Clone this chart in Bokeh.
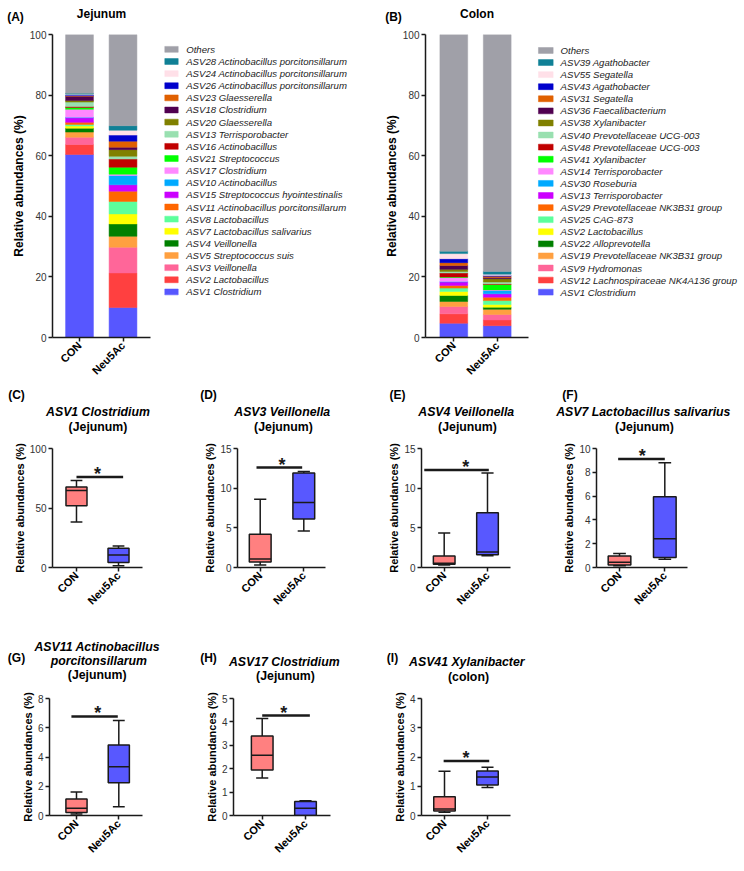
import numpy as np
from bokeh.plotting import figure
from bokeh.models import Range1d, FixedTicker, ColumnDataSource, Spacer
from bokeh.layouts import column, row
from bokeh.embed import file_html
from bokeh.resources import INLINE
from bokeh.core.properties import value

FONT = "Liberation Sans"

groups = ["CON", "Neu5Ac"]

# ---------------- Panel A (Jejunum), bottom -> top ----------------
jej_taxa = ["ASV1 Clostridium", "ASV2 Lactobacillus", "ASV3 Veillonella",
            "ASV5 Streptococcus suis", "ASV4 Veillonella",
            "ASV7 Lactobacillus salivarius", "ASV8 Lactobacillus",
            "ASV11 Actinobacillus porcitonsillarum",
            "ASV15 Streptococcus hyointestinalis", "ASV10 Actinobacillus",
            "ASV17 Clostridium", "ASV21 Streptococcus", "ASV16 Actinobacillus",
            "ASV13 Terrisporobacter", "ASV20 Glaesserella", "ASV18 Clostridium",
            "ASV23 Glaesserella", "ASV26 Actinobacillus porcitonsillarum",
            "ASV24 Actinobacillus porcitonsillarum",
            "ASV28 Actinobacillus porcitonsillarum", "Others"]
jej_con = [60.4, 3.3, 2.4, 1.7, 1.3, 0.7, 0.5, 0.7, 1.5, 0.2, 2.6, 0.6, 0.3,
           1.5, 0.5, 1.4, 0.2, 0.2, 0.3, 0.3, 19.4]
jej_neu = [9.9, 11.4, 8.5, 3.6, 4.1, 3.3, 4.1, 3.4, 2.1, 3.1, 0.4, 2.3, 2.7,
           0.9, 2.2, 0.8, 2.0, 2.0, 1.6, 1.5, 30.1]

# ---------------- Panel B (Colon), bottom -> top ----------------
col_taxa = ["ASV1 Clostridium", "ASV12 Lachnospiraceae NK4A136 group",
            "ASV9 Hydromonas", "ASV19 Prevotellaceae NK3B31 group",
            "ASV22 Alloprevotella", "ASV2 Lactobacillus", "ASV25 CAG-873",
            "ASV29 Prevotellaceae NK3B31 group", "ASV13 Terrisporobacter",
            "ASV30 Roseburia", "ASV14 Terrisporobacter", "ASV41 Xylanibacter",
            "ASV48 Prevotellaceae UCG-003", "ASV40 Prevotellaceae UCG-003",
            "ASV38 Xylanibacter", "ASV36 Faecalibacterium", "ASV31 Segatella",
            "ASV43 Agathobacter", "ASV55 Segatella", "ASV39 Agathobacter",
            "Others"]
col_con = [4.7, 3.1, 2.4, 1.7, 2.0, 1.3, 1.1, 0.9, 1.1, 0.2, 1.3, 0.2, 1.3,
           0.5, 0.7, 1.3, 0.9, 1.3, 1.7, 0.8, 71.5]
col_neu = [3.9, 1.9, 1.8, 1.7, 0.7, 0.9, 1.3, 1.1, 1.1, 1.1, 0.2, 1.8, 0.2,
           0.6, 1.1, 0.4, 0.4, 0.3, 0.4, 0.9, 78.2]

palette = ["#5757FF", "#FF4040", "#FF6699", "#FFA040", "#008000", "#FFFF00",
           "#5CFF9C", "#FF6600", "#CC00FF", "#00AAFF", "#FF88FF", "#00FF00",
           "#C00000", "#99E0B0", "#808000", "#500050", "#E06000", "#0000CC",
           "#FFE0E8", "#108096", "#A0A0A8"]

bar_titles = ["Jejunum", "Colon"]
bar_letters = ["(A)", "(B)"]

# ---------------- Box plots: [low whisker, Q1, median, Q3, high whisker] ----------------
box_species = [["ASV1 Clostridium"], ["ASV3 Veillonella"], ["ASV4 Veillonella"],
               ["ASV7 Lactobacillus salivarius"],
               ["ASV11 Actinobacillus", "porcitonsillarum"],
               ["ASV17 Clostridium"], ["ASV41 Xylanibacter"]]
box_sites = ["(Jejunum)", "(Jejunum)", "(Jejunum)", "(Jejunum)", "(Jejunum)",
             "(Jejunum)", "(colon)"]
box_letters = ["(C)", "(D)", "(E)", "(F)", "(G)", "(H)", "(I)"]

asv1_con = [38.3, 51.8, 64.8, 67.6, 73.2]
asv1_neu = [1.4, 4.2, 10.4, 16.1, 18.0]
asv3_con = [0.3, 0.68, 1.06, 4.2, 8.6]
asv3_neu = [4.6, 6.1, 8.2, 11.9, 12.1]
asv4_con = [0.3, 0.42, 0.55, 1.44, 4.35]
asv4_neu = [1.48, 1.6, 1.94, 6.9, 11.9]
asv7_con = [0.14, 0.22, 0.44, 0.96, 1.18]
asv7_neu = [0.69, 0.83, 2.42, 5.95, 8.8]
asv11_con = [0.11, 0.2, 0.49, 1.12, 1.61]
asv11_neu = [0.6, 2.24, 3.34, 4.82, 6.5]
asv17_con = [1.60, 1.94, 2.58, 3.40, 4.14]
asv17_neu = [0.0, 0.0, 0.31, 0.60, 0.63]
asv41_con = [0.11, 0.15, 0.22, 0.64, 1.51]
asv41_neu = [0.96, 1.04, 1.32, 1.52, 1.65]

sig_level = [76.1, 12.6, 12.3, 9.12, 6.77, 4.27, 1.86]
sig_x0 = [0.0, -0.085, -0.46, -0.03, -0.12, 0.0, -0.02]
sig_x1 = [1.11, 0.963, 1.03, 1.0, 0.976, 1.1, 1.04]

y_max = [100, 15, 15, 10, 8, 5, 4]
y_ticks = [[0, 50, 100], [0, 5, 10, 15], [0, 5, 10, 15], [0, 2, 4, 6, 8, 10],
           [0, 2, 4, 6, 8], [0, 1, 2, 3, 4, 5], [0, 1, 2, 3, 4]]

box_colors = ["#FF8080", "#5858FF"]

# ---------------- layout geometry (page pixels) ----------------
STRIP1_H, STRIP2_H, STRIP3_H = 25, 50, 66
ROW1_H = 361
bar_letter_pos = [(15, 16), (393, 16)]
bar_title_pos = [(101, 13.3), (476.5, 13.3)]

# legend boxes: width, swatch centre x, swatch w/h, text x, first & last row centre y
legend_geo = [dict(w=212, sx=11.0, sw=13.4, sh=7.0, tx=25.7, y0=17.7, y1=306.7),
              dict(w=210, sx=11.3, sw=14.7, sh=7.0, tx=26.0, y0=19.0, y1=307.0)]

box_layout = [
    dict(w=186, h=182, b=(52, 44, 12, 51), xr=(-0.571, 1.571),
         letter=(16, 8), t1=[(97.5, 25.7)], t2=(97.5, 40.7)),
    dict(w=186, h=182, b=(51, 47, 12, 51), xr=(-0.521, 1.498),
         letter=(208, 8), t1=[(281.7, 25.7)], t2=(283, 40.7)),
    dict(w=176, h=182, b=(49, 38, 12, 51), xr=(-0.524, 1.531),
         letter=(397, 8), t1=[(465.7, 25.7)], t2=(467, 40.7)),
    dict(w=196, h=182, b=(48, 57, 12, 49), xr=(-0.508, 1.501),
         letter=(569.5, 8), t1=[(642.8, 25.7)], t2=(644, 40.7)),
    dict(w=186, h=187, b=(49, 44, 12, 56), xr=(-0.638, 1.560),
         letter=(16, 39), t1=[(96.7, 28), (98.3, 42)], t2=(96.7, 56)),
    dict(w=186, h=187, b=(47, 42, 13, 54), xr=(-0.663, 1.577),
         letter=(208, 39), t1=[(283.8, 43)], t2=(285, 57)),
    dict(w=176, h=187, b=(49, 38, 14, 54), xr=(-0.535, 1.535),
         letter=(392, 39), t1=[(466.3, 43.7)], t2=(468, 58.7)),
]


def blank(w, h):
    p = figure(width=w, height=h, x_range=Range1d(0, w), y_range=Range1d(h, 0),
               x_axis_location=None, y_axis_location=None, min_border=0,
               output_backend="svg", toolbar_location=None, title=None)
    p.grid.visible = False
    p.outline_line_color = None
    return p


def strip_text(p, pos, texts, size, style, align="center"):
    p.text(x=[q[0] for q in pos], y=[q[1] for q in pos], text=texts,
           text_align=align, text_baseline="middle", text_font=value(FONT),
           text_font_size=size, text_font_style=style, text_color="black")


def style_axes(p, yticks, ylab_size, tick_size):
    p.xgrid.visible = False
    p.ygrid.visible = False
    p.outline_line_color = None
    for ax in (p.xaxis[0], p.yaxis[0]):
        ax.axis_line_width = 1.5
        ax.axis_line_color = "#1a1a1a"
        ax.major_tick_line_width = 1.5
        ax.major_tick_line_color = "#1a1a1a"
        ax.major_tick_out = 4
        ax.major_tick_in = 0
        ax.minor_tick_out = 0
        ax.minor_tick_in = 0
        ax.major_label_standoff = 2
    p.xaxis.ticker = FixedTicker(ticks=list(range(len(groups))))
    p.xaxis.major_label_overrides = {i: g for i, g in enumerate(groups)}
    p.xaxis.major_label_orientation = np.pi / 4
    p.xaxis.major_label_text_font = FONT
    p.xaxis.major_label_text_font_style = "bold"
    p.xaxis.major_label_text_font_size = "11px"
    p.xaxis.major_label_text_color = "black"
    p.yaxis.ticker = FixedTicker(ticks=yticks)
    p.yaxis.major_label_text_font = FONT
    p.yaxis.major_label_text_font_size = tick_size
    p.yaxis.major_label_text_color = "#333333"
    p.yaxis.axis_label = "Relative abundances (%)"
    p.yaxis.axis_label_text_font = FONT
    p.yaxis.axis_label_text_font_style = "bold"
    p.yaxis.axis_label_text_font_size = ylab_size
    p.yaxis.axis_label_text_color = "black"
    p.yaxis.axis_label_standoff = 1


def make_bar(width, borders, xr, taxa, con, neu):
    bl, br, bt, bb = borders
    p = figure(width=width, height=ROW1_H, x_range=Range1d(*xr), y_range=Range1d(0, 100),
               min_border_left=bl, min_border_right=br,
               min_border_top=bt, min_border_bottom=bb,
               output_backend="svg", toolbar_location=None, title=None)
    data = {"x": list(range(len(groups)))}
    keys = []
    for i in range(len(taxa)):
        k = "s%d" % i
        keys.append(k)
        data[k] = [con[i], neu[i]]
    src = ColumnDataSource(data)
    p.vbar_stack(keys, x="x", width=0.64, color=palette, source=src, line_width=0.5)
    style_axes(p, [0, 20, 40, 60, 80, 100], "12px", "10px")
    return p


def make_legend(geo, taxa):
    p = blank(geo["w"], ROW1_H)
    n = len(taxa)
    labels = list(reversed(taxa))
    cols = list(reversed(palette[:n]))
    ys = [geo["y0"] + k * (geo["y1"] - geo["y0"]) / (n - 1) for k in range(n)]
    src = ColumnDataSource(dict(y=ys, label=labels, color=cols,
                                sx=[geo["sx"]] * n, tx=[geo["tx"]] * n))
    p.rect(x="sx", y="y", width=geo["sw"], height=geo["sh"], fill_color="color",
           line_color="color", line_width=0.5, source=src)
    p.text(x="tx", y="y", text="label", text_align="left", text_baseline="middle",
           text_font=value(FONT), text_font_style="italic", text_font_size="9.6px",
           text_color="#222222", source=src)
    return p


s1 = blank(744, STRIP1_H)
strip_text(s1, bar_letter_pos, bar_letters, "12px", "bold")
strip_text(s1, bar_title_pos, bar_titles, "12px", "bold")

pA = make_bar(160, (52, 10, 9, 49), (-0.621, 1.632), jej_taxa, jej_con, jej_neu)
legA = make_legend(legend_geo[0], jej_taxa)
pB = make_bar(162, (53, 6, 9, 49), (-0.652, 1.721), col_taxa, col_con, col_neu)
legB = make_legend(legend_geo[1], col_taxa)


def make_box(i, con, neu):
    L = box_layout[i]
    bl, br, bt, bb = L["b"]
    x0, x1 = L["xr"]
    ymax = y_max[i]
    p = figure(width=L["w"], height=L["h"], x_range=Range1d(x0, x1), y_range=Range1d(0, ymax),
               min_border_left=bl, min_border_right=br,
               min_border_top=bt, min_border_bottom=bb,
               output_backend="svg", toolbar_location=None, title=None)
    xs = np.arange(len(groups), dtype=float)
    stats = np.array([con, neu])
    src = ColumnDataSource(dict(x=xs, lo=stats[:, 0], q1=stats[:, 1], med=stats[:, 2],
                                q3=stats[:, 3], hi=stats[:, 4], color=box_colors,
                                cl=xs - 0.14, cr=xs + 0.14, ml=xs - 0.25, mr=xs + 0.25))
    kw = dict(source=src, line_color="#1a1a1a", line_width=1.5)
    p.segment(x0="x", y0="q3", x1="x", y1="hi", **kw)
    p.segment(x0="x", y0="lo", x1="x", y1="q1", **kw)
    p.segment(x0="cl", y0="hi", x1="cr", y1="hi", **kw)
    p.segment(x0="cl", y0="lo", x1="cr", y1="lo", **kw)
    p.vbar(x="x", bottom="q1", top="q3", width=0.5, fill_color="color", **kw)
    p.segment(x0="ml", y0="med", x1="mr", y1="med", **kw)
    p.segment(x0=[sig_x0[i]], y0=[sig_level[i]], x1=[sig_x1[i]], y1=[sig_level[i]],
              line_color="#1a1a1a", line_width=2.5)
    p.text(x=[0.5], y=[sig_level[i]], text=["*"], text_align="center",
           text_baseline="alphabetic", text_font=value(FONT), text_font_size="18px",
           text_font_style="bold", text_color="#1a1a1a", y_offset=-3)
    style_axes(p, y_ticks[i], "11px", "10px")
    return p


box_data = [(asv1_con, asv1_neu), (asv3_con, asv3_neu), (asv4_con, asv4_neu),
            (asv7_con, asv7_neu), (asv11_con, asv11_neu), (asv17_con, asv17_neu),
            (asv41_con, asv41_neu)]
bp = [make_box(i, c, n) for i, (c, n) in enumerate(box_data)]

s2 = blank(744, STRIP2_H)
s3 = blank(744, STRIP3_H)
for i in range(7):
    st = s2 if i < 4 else s3
    L = box_layout[i]
    strip_text(st, [L["letter"]], [box_letters[i]], "12px", "bold")
    strip_text(st, L["t1"], box_species[i], "12.3px", "bold italic")
    strip_text(st, [L["t2"]], [box_sites[i]], "12.3px", "bold")

layout = column(s1,
                row(pA, legA, pB, legB),
                s2,
                row(bp[0], bp[1], bp[2], bp[3]),
                s3,
                row(bp[4], bp[5], bp[6], Spacer(width=196, height=187)))

open("out.html", "w").write(file_html(layout, INLINE))
